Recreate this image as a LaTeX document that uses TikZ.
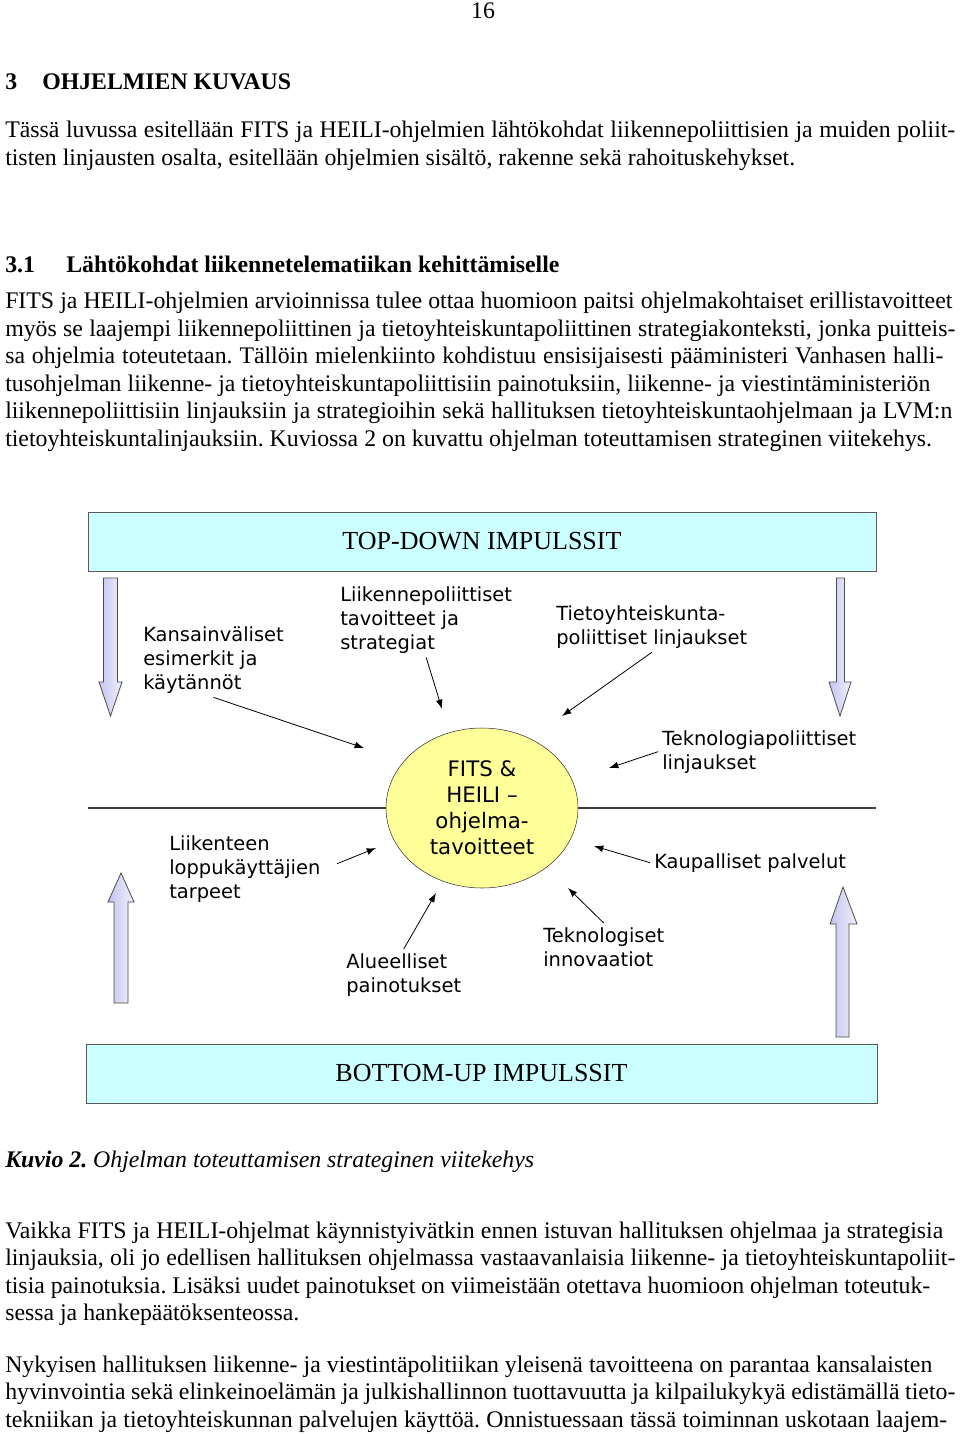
\documentclass[tikz,border=0pt]{standalone}
\usepackage{fontspec}
\setmainfont{Liberation Serif}
\newfontfamily\diagfont{DejaVu Sans}
\usetikzlibrary{shapes.geometric, arrows.meta}
\frenchspacing

\newlength\pxlen
\setlength\pxlen{0.75pt}
\newcommand\jline[2]{\makebox[#1\pxlen][s]{#2}}

\definecolor{impulsefill}{RGB}{204,255,255}
\definecolor{programmefill}{RGB}{255,255,153}
\definecolor{arrowlilac}{RGB}{196,196,240}

\tikzset{
    bodytext/.style = {anchor = base west, inner sep = 0pt,
        font = \fontsize{17.85pt}{20.6pt}\selectfont},
    impulse/.style = {draw = black!65, fill = impulsefill, minimum height = 44.25pt,
        inner sep = 0pt, font = \fontsize{19.5pt}{22pt}\selectfont},
    programme/.style = {ellipse, draw = black!80, fill = programmefill,
        minimum width = 144pt, minimum height = 120pt, inner sep = 0pt, align = center,
        font = \diagfont\fontsize{16pt}{19.5pt}\selectfont},
    factor/.style = {anchor = north west, align = left, inner sep = 3pt,
        font = \diagfont\fontsize{14.6pt}{18pt}\selectfont},
    pointer/.style = {-{Latex[length = 7pt, width = 5pt]}, line width = 0.6pt},
    fatarrow/.style = {draw = black!70, line width = 0.6pt,
        left color = arrowlilac, right color = arrowlilac!25}
}

\begin{document}
\begin{tikzpicture}[x = 0.75pt, y = -0.75pt]
    \useasboundingbox (0,0) rectangle (960,1434);

    % sivu ja otsikot
    \node[bodytext, anchor = base] (pagenum) at (483,19) {16};
    \node[bodytext] (chapter) at (5,90) {\textbf{\makebox[37\pxlen][l]{3}OHJELMIEN KUVAUS}};
    \node[bodytext] (p1a) at (5,138) {\jline{950}{Tässä luvussa esitellään FITS ja HEILI-ohjelmien lähtökohdat liikennepoliittisien ja muiden poliit-}};
    \node[bodytext] (p1b) at (5,166) {tisten linjausten osalta, esitellään ohjelmien sisältö, rakenne sekä rahoituskehykset.};
    \node[bodytext] (section) at (5,272) {\textbf{\makebox[61\pxlen][l]{3.1}Lähtökohdat liikennetelematiikan kehittämiselle}};

    \node[bodytext] (p2a) at (5,308) {\jline{947}{FITS ja HEILI-ohjelmien arvioinnissa tulee ottaa huomioon paitsi ohjelmakohtaiset erillistavoitteet}};
    \node[bodytext] (p2b) at (5,336) {\jline{950}{myös se laajempi liikennepoliittinen ja tietoyhteiskuntapoliittinen strategiakonteksti, jonka puitteis-}};
    \node[bodytext] (p2c) at (5,363) {\jline{938}{sa ohjelmia toteutetaan. Tällöin mielenkiinto kohdistuu ensisijaisesti pääministeri Vanhasen halli-}};
    \node[bodytext] (p2d) at (5,391) {\jline{925}{tusohjelman liikenne- ja tietoyhteiskuntapoliittisiin painotuksiin, liikenne- ja viestintäministeriön}};
    \node[bodytext] (p2e) at (5,418) {\jline{947}{liikennepoliittisiin linjauksiin ja strategioihin sekä hallituksen tietoyhteiskuntaohjelmaan ja LVM:n}};
    \node[bodytext] (p2f) at (5,446) {tietoyhteiskuntalinjauksiin. Kuviossa 2 on kuvattu ohjelman toteuttamisen strateginen viitekehys.};

    % impulssit
    \node[impulse, minimum width = 591pt] (topdown) at (482,541.5) {TOP-DOWN IMPULSSIT};
    \node[impulse, minimum width = 593.25pt] (bottomup) at (481.5,1073.5) {BOTTOM-UP IMPULSSIT};

    % paksut nuolet
    \draw[fatarrow] (103.5,578) -- (117.5,578) -- (117.5,682) -- (122,682) -- (110.5,716)
        -- (99,682) -- (103.5,682) -- cycle;
    \draw[fatarrow] (836.5,578) -- (844.5,578) -- (844.5,682) -- (851,682) -- (840,716)
        -- (829,682) -- (836.5,682) -- cycle;
    \draw[fatarrow] (114,1003) -- (128,1003) -- (128,902) -- (134,902) -- (121,873)
        -- (108,902) -- (114,902) -- cycle;
    \draw[fatarrow] (836,1037) -- (849,1037) -- (849,924) -- (857,924) -- (843,887)
        -- (830,924) -- (836,924) -- cycle;

    % ohjelma keskellä
    \node[programme] (fits) at (482,808) {FITS \&\\HEILI –\\ohjelma-\\tavoitteet};
    \coordinate (lineW) at (88,808);
    \coordinate (lineE) at (876,808);
    \draw[draw = black!75, line width = 0.8pt] (lineW) -- (fits.west);
    \draw[draw = black!75, line width = 0.8pt] (fits.east) -- (lineE);

    % tekijät
    \node[factor] (kans) at (139,622) {Kansainväliset\\esimerkit ja\\käytännöt};
    \node[factor] (liikpol) at (336,582) {Liikennepoliittiset\\tavoitteet ja\\strategiat};
    \node[factor] (tieto) at (552,601) {Tietoyhteiskunta-\\poliittiset linjaukset};
    \node[factor] (teknopol) at (658,726) {Teknologiapoliittiset\\linjaukset};
    \node[factor] (liikent) at (165,831) {Liikenteen\\loppukäyttäjien\\tarpeet};
    \node[factor] (kaup) at (650,849) {Kaupalliset palvelut};
    \node[factor] (alue) at (342,949) {Alueelliset\\painotukset};
    \node[factor] (teknoinn) at (539,923) {Teknologiset\\innovaatiot};

    \coordinate (kansTip) at (364,748);
    \coordinate (liikpolTip) at (442,709);
    \coordinate (tietoTip) at (562,716);
    \coordinate (teknopolTip) at (609,768);
    \coordinate (kaupTip) at (594,846);
    \coordinate (teknoinnTip) at (568,888);
    \coordinate (alueTip) at (436,893);
    \coordinate (liikentTip) at (376,848);

    \draw[pointer] (kans.south) -- (kansTip);
    \draw[pointer] (liikpol.south) -- (liikpolTip);
    \draw[pointer] (tieto.south) -- (tietoTip);
    \draw[pointer] (teknopol.west) -- (teknopolTip);
    \draw[pointer] (kaup.west) -- (kaupTip);
    \draw[pointer] (teknoinn.north) -- (teknoinnTip);
    \draw[pointer] (alue.north) -- (alueTip);
    \draw[pointer, shorten <= 10pt] (liikent.east) -- (liikentTip);

    % kuvateksti ja jatko
    \node[bodytext] (caption) at (5,1167) {\textbf{\textit{Kuvio 2.}} \textit{Ohjelman toteuttamisen strateginen viitekehys}};

    \node[bodytext] (p3a) at (5,1238) {\jline{938}{Vaikka FITS ja HEILI-ohjelmat käynnistyivätkin ennen istuvan hallituksen ohjelmaa ja strategisia}};
    \node[bodytext] (p3b) at (5,1265) {\jline{950}{linjauksia, oli jo edellisen hallituksen ohjelmassa vastaavanlaisia liikenne- ja tietoyhteiskuntapoliit-}};
    \node[bodytext] (p3c) at (5,1293) {\jline{925}{tisia painotuksia. Lisäksi uudet painotukset on viimeistään otettava huomioon ohjelman toteutuk-}};
    \node[bodytext] (p3d) at (5,1320) {sessa ja hankepäätöksenteossa.};

    \node[bodytext] (p4a) at (5,1372) {\jline{927}{Nykyisen hallituksen liikenne- ja viestintäpolitiikan yleisenä tavoitteena on parantaa kansalaisten}};
    \node[bodytext] (p4b) at (5,1399) {\jline{950}{hyvinvointia sekä elinkeinoelämän ja julkishallinnon tuottavuutta ja kilpailukykyä edistämällä tieto-}};
    \node[bodytext] (p4c) at (5,1427) {\jline{942}{tekniikan ja tietoyhteiskunnan palvelujen käyttöä. Onnistuessaan tässä toiminnan uskotaan laajem-}};
\end{tikzpicture}
\end{document}
